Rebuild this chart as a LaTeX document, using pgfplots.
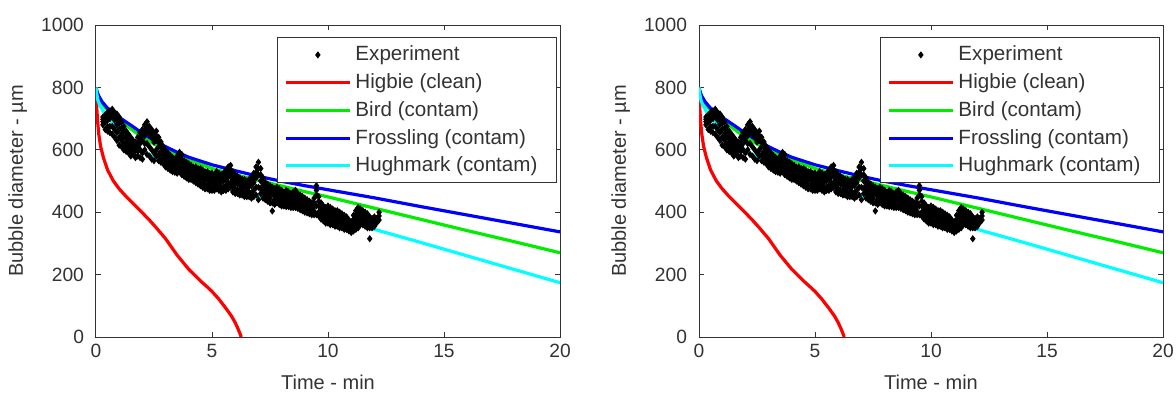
\documentclass[border=0pt]{standalone}
\usepackage{fontspec}
\setmainfont{Liberation Sans}
\usepackage{pgfplots}
\usepackage{pgfplotstable}
\pgfplotsset{compat=1.18}

\definecolor{mred}{rgb}{1,0,0}
\definecolor{mgreen}{rgb}{0,0.93,0}
\definecolor{mblue}{rgb}{0,0,1}
\definecolor{mcyan}{rgb}{0,1,1}
\definecolor{axgray}{gray}{0.2}

% Experiment: several measured diameters at each time
\pgfplotstableread[row sep=\\]{
t a e b c d\\
0.3 705 698 690 680 nan\\
0.4 712 700 690 665 nan\\
0.5 720 708 695 660 675\\
0.6 725 712 700 655 675\\
0.7 730 718 705 650 675\\
0.8 720 708 695 640 665\\
0.9 715 698 680 630 655\\
1.0 705 685 665 615 640\\
1.1 690 670 650 610 630\\
1.2 675 658 640 600 620\\
1.3 660 642 625 595 610\\
1.4 650 632 615 590 600\\
1.5 640 624 608 580 595\\
1.6 630 616 602 585 nan\\
1.7 625 612 598 575 nan\\
1.8 640 625 610 580 595\\
1.9 655 638 620 575 600\\
2.0 665 648 630 590 570\\
2.1 680 662 645 600 620\\
2.2 690 675 660 620 585\\
2.3 675 662 650 610 580\\
2.4 665 652 640 600 570\\
2.5 655 640 625 590 565\\
2.6 660 645 630 600 580\\
2.7 640 625 610 585 565\\
2.8 625 610 595 575 560\\
2.9 610 598 585 565 555\\
3.0 598 586 575 560 545\\
3.1 590 579 568 552 540\\
3.2 582 571 560 545 535\\
3.3 575 563 552 540 530\\
3.4 570 559 548 535 528\\
3.5 580 569 558 540 525\\
3.6 592 578 565 545 530\\
3.7 585 570 555 535 520\\
3.8 565 555 545 528 515\\
3.9 560 549 538 522 510\\
4.0 555 543 532 518 505\\
4.1 550 539 528 512 505\\
4.2 545 533 522 508 500\\
4.3 545 531 518 503 495\\
4.4 540 527 515 498 490\\
4.5 540 525 510 495 485\\
4.6 535 521 508 492 480\\
4.7 530 517 505 488 475\\
4.8 530 516 503 486 475\\
4.9 525 511 498 482 470\\
5.0 525 511 498 482 470\\
5.1 520 507 495 480 470\\
5.2 530 516 502 485 475\\
5.3 525 513 502 485 470\\
5.4 520 509 498 480 465\\
5.5 525 512 500 482 470\\
5.6 535 520 505 485 470\\
5.7 545 528 512 492 475\\
5.8 550 534 518 495 480\\
5.9 530 517 505 485 465\\
6.0 520 507 495 475 460\\
6.1 515 502 490 472 460\\
6.2 510 499 488 470 455\\
6.3 505 494 483 468 455\\
6.4 505 492 480 463 450\\
6.5 500 489 478 462 450\\
6.6 505 493 482 465 450\\
6.7 510 497 485 462 445\\
6.8 525 510 495 470 450\\
6.9 545 527 510 480 455\\
7.0 560 540 520 480 440\\
7.1 540 520 500 475 460\\
7.2 510 497 485 465 445\\
7.3 495 483 472 455 440\\
7.4 490 479 468 450 435\\
7.5 485 473 462 445 430\\
7.6 480 469 458 430 404\\
7.7 475 463 452 440 425\\
7.8 480 469 458 442 430\\
7.9 475 463 452 438 425\\
8.0 470 459 448 432 420\\
8.1 465 453 442 430 420\\
8.2 470 458 447 430 418\\
8.3 465 453 442 428 418\\
8.4 460 448 437 425 415\\
8.5 465 453 442 428 415\\
8.6 470 457 445 428 415\\
8.7 460 447 435 422 412\\
8.8 455 442 430 418 408\\
8.9 450 438 427 415 405\\
9.0 445 433 422 410 400\\
9.1 440 430 420 408 398\\
9.2 435 426 417 405 395\\
9.3 430 421 412 400 392\\
9.4 445 431 418 403 392\\
9.5 485 470 455 420 392\\
9.6 450 435 420 400 388\\
9.7 430 417 405 390 378\\
9.8 420 409 398 383 372\\
9.9 415 403 392 378 365\\
10.0 420 406 393 378 365\\
10.1 415 401 388 373 360\\
10.2 410 398 387 372 360\\
10.3 405 393 382 368 355\\
10.4 405 391 378 365 355\\
10.5 400 388 377 362 350\\
10.6 395 383 372 360 350\\
10.7 390 378 367 355 345\\
10.8 385 373 362 352 345\\
10.9 375 366 357 348 340\\
11.0 370 362 355 345 335\\
11.1 390 376 362 350 340\\
11.2 405 391 378 360 345\\
11.3 415 401 388 368 350\\
11.4 410 401 392 375 360\\
11.5 405 396 387 372 360\\
11.6 400 391 382 368 355\\
11.7 395 383 372 360 350\\
11.8 385 373 362 350 315\\
11.9 380 373 366 358 350\\
12.0 385 378 372 362 355\\
12.1 380 373 366 nan nan\\
12.2 400 388 375 nan nan\\
}\expdata

\pgfplotstableread[row sep=\\]{
t y\\
0 800\\ 0.02 760\\ 0.04 725\\ 0.07 690\\ 0.12 650\\ 0.2 610\\ 0.32 575\\
0.5 535\\ 0.75 500\\ 1.0 475\\ 1.3 450\\ 1.6 428\\ 2.0 398\\ 2.3 375\\
2.6 350\\ 3.0 315\\ 3.5 262\\ 4.0 217\\ 4.5 180\\ 4.8 160\\ 5.0 146\\
5.3 121\\ 5.6 92\\ 5.85 66\\ 6.0 46\\ 6.1 30\\ 6.2 12\\ 6.26 0\\
}\higbie

\pgfplotstableread[row sep=\\]{
t y\\
0 800\\ 0.05 785\\ 0.1 775\\ 0.25 755\\ 0.5 733\\ 0.86 711\\ 1.2 694\\
1.5 679\\ 2.0 653\\ 2.5 630\\ 3.0 610\\ 3.5 592\\ 4.0 576\\ 5.0 552\\
6.0 533\\ 7.0 515\\ 8.0 499\\ 9.0 485\\ 10.0 472\\ 12.0 446\\ 14.0 418\\
16.0 391\\ 18.0 364\\ 20.0 337\\
}\frossling

\pgfplotstableread[row sep=\\]{
t y\\
0 800\\ 0.05 783\\ 0.1 772\\ 0.25 750\\ 0.5 726\\ 0.86 700\\ 1.2 684\\
1.5 667\\ 2.0 640\\ 2.5 619\\ 3.0 600\\ 3.5 583\\ 4.0 568\\ 5.0 540\\
6.0 520\\ 7.0 502\\ 8.0 484\\ 9.0 466\\ 10.0 449\\ 12.0 413\\ 14.0 377\\
16.0 341\\ 18.0 306\\ 20.0 270\\
}\bird

\pgfplotstableread[row sep=\\]{
t y\\
0 800\\ 0.03 780\\ 0.08 760\\ 0.15 745\\ 0.3 725\\ 0.5 705\\ 0.86 674\\
1.2 650\\ 1.5 630\\ 2.0 598\\ 2.5 575\\ 3.0 555\\ 3.5 540\\ 4.0 524\\
5.0 497\\ 6.0 473\\ 7.0 452\\ 8.0 431\\ 9.0 410\\ 10.0 388\\ 12.0 345\\
14.0 303\\ 16.0 260\\ 18.0 217\\ 20.0 174\\
}\hughmark

\pgfplotsset{
  linesty/.style={line width=1.6pt, mark=none,
    legend image code/.code={\draw[##1, line width=1.6pt] (0pt,0pt) -- (32pt,0pt);}},
  expsty/.style={draw=none, mark=diamond*, mark size=1.5pt,
    mark options={draw=black, fill=black}, unbounded coords=discard},
  markleg/.style={
    legend image code/.code={\path (0pt,0pt) -- (32pt,0pt);
      \path[draw=none] plot[mark=diamond*, mark size=1.4pt, mark options={draw=black, fill=black}] coordinates {(16pt,0pt)};}},
  panel/.style={
    scale only axis, width=232pt, height=156pt,
    anchor=south west,
    xmin=0, xmax=20, ymin=0, ymax=1000,
    xtick={0,5,10,15,20}, ytick={0,200,400,600,800,1000},
    tick align=inside, xtick pos=both, ytick pos=both,
    major tick length=2.5pt,
    axis line style={axgray, line width=0.5pt},
    tick style={axgray, line width=0.5pt},
    /pgf/number format/assume math mode=true,
    /pgf/number format/1000 sep={},
    ticklabel style={font=\fontsize{9.6}{11}\selectfont, text=axgray},
    yticklabel style={xshift=-2.5pt},
    label style={font=\fontsize{10}{12}\selectfont, text=axgray},
    xlabel={Time - min},
    ylabel={Bubble diameter - µm},
    xlabel style={at={(axis description cs:0.5,-0.144)}, anchor=center},
    ylabel style={at={(axis description cs:-0.169,0.5)}, anchor=center},
    legend style={at={(rel axis cs:0.9935,0.96)}, anchor=north east,
      font=\fontsize{10.3}{12}\selectfont, text=axgray,
      draw=axgray, line width=0.5pt,
      inner xsep=3.5pt, inner ysep=2.2pt,
      nodes={inner ysep=1.8pt, inner xsep=2pt},
      row sep=1.3pt,
      cells={anchor=west}},
  }
}

\newcommand{\allplots}{%
  \addplot[expsty, markleg] table[x=t,y=a] {\expdata};
  \addlegendentry{Experiment}
  \addplot[expsty, forget plot] table[x=t,y=e] {\expdata};
  \addplot[expsty, forget plot] table[x=t,y=b] {\expdata};
  \addplot[expsty, forget plot] table[x=t,y=c] {\expdata};
  \addplot[expsty, forget plot] table[x=t,y=d] {\expdata};
  \addplot[linesty, mred] table[x=t,y=y] {\higbie};
  \addlegendentry{Higbie (clean)}
  \addplot[linesty, mgreen] table[x=t,y=y] {\bird};
  \addlegendentry{Bird (contam)}
  \addplot[linesty, mblue] table[x=t,y=y] {\frossling};
  \addlegendentry{Frossling (contam)}
  \addplot[linesty, mcyan] table[x=t,y=y] {\hughmark};
  \addlegendentry{Hughmark (contam)\hspace*{4pt}}
}

\begin{document}
\begin{tikzpicture}
\begin{axis}[panel, at={(0pt,0pt)}]
\allplots
\end{axis}
\begin{axis}[panel, at={(301.5pt,0pt)}]
\allplots
\end{axis}
\pgfresetboundingbox
\path (-48pt,-27.5pt) rectangle (540pt,168.5pt);
\end{tikzpicture}
\end{document}
